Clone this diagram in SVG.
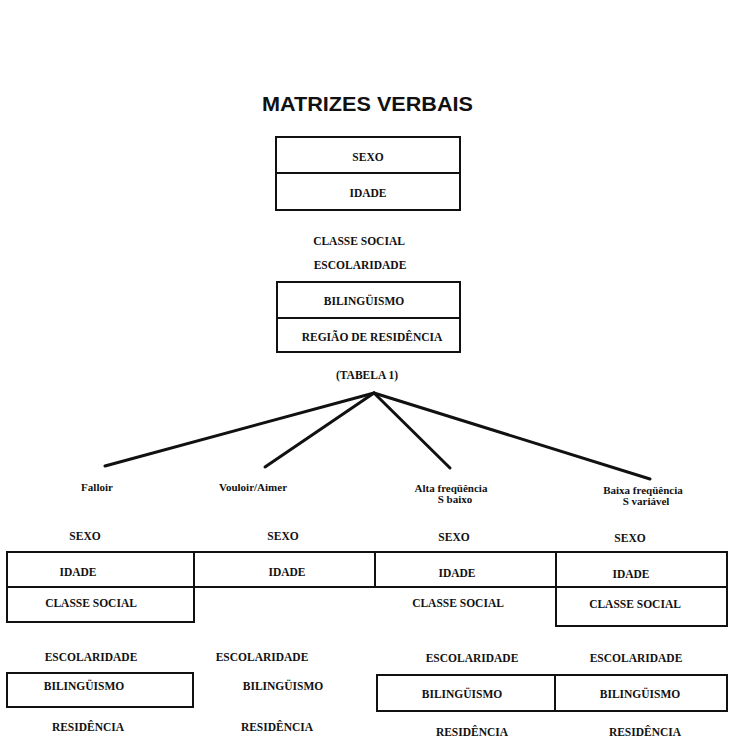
<svg xmlns="http://www.w3.org/2000/svg" width="733" height="738" viewBox="0 0 733 738">
<style>
.t{font-family:"Liberation Serif","Times New Roman",serif;font-weight:bold;font-size:11.5px;fill:#111;text-anchor:middle}
.s{font-size:11px}
.title{font-family:"Liberation Sans",Arial,sans-serif;font-weight:bold;font-size:21px;fill:#111;text-anchor:middle}
.box{fill:none;stroke:#111;stroke-width:2}
.ln{stroke:#111;stroke-width:2}
.con{stroke:#111;stroke-width:3;stroke-linecap:round}
</style>
<rect width="733" height="738" fill="#fff"/>
<g id="title"><text class="title" x="367.5" y="110.5" textLength="211" lengthAdjust="spacingAndGlyphs">MATRIZES VERBAIS</text></g>
<g id="box-top">
<rect class="box" x="276" y="137" width="184" height="73"/>
<line class="ln" x1="276" y1="173" x2="460" y2="173"/>
<text class="t" x="368" y="161">SEXO</text>
<text class="t" x="368" y="197">IDADE</text>
</g>
<g id="classe-social"><text class="t" x="359" y="245">CLASSE SOCIAL</text></g>
<g id="escolaridade"><text class="t" x="360" y="269">ESCOLARIDADE</text></g>
<g id="box-mid">
<rect class="box" x="277" y="282" width="183" height="70"/>
<line class="ln" x1="277" y1="318" x2="460" y2="318"/>
<text class="t" x="364" y="305">BILINGÜISMO</text>
<text class="t" x="372" y="341">REGIÃO DE RESIDÊNCIA</text>
</g>
<g id="tabela"><text class="t" x="367" y="379">(TABELA 1)</text></g>
<g id="connectors">
<line class="con" x1="374" y1="393" x2="105" y2="466"/>
<line class="con" x1="374" y1="393" x2="265" y2="467"/>
<line class="con" x1="374" y1="393" x2="450" y2="468"/>
<line class="con" x1="374" y1="393" x2="650" y2="479"/>
</g>
<g id="falloir"><text class="t s" x="97" y="491">Falloir</text></g>
<g id="vouloir"><text class="t s" x="253" y="491">Vouloir/Aimer</text></g>
<g id="alta">
<text class="t s" x="451" y="492">Alta freqüência</text>
<text class="t s" x="455" y="503">S baixo</text>
</g>
<g id="baixa">
<text class="t s" x="643" y="494">Baixa freqüência</text>
<text class="t s" x="646" y="505">S variável</text>
</g>
<g id="grid">
<rect class="box" x="7" y="552" width="720" height="35"/>
<line class="ln" x1="194" y1="552" x2="194" y2="587"/>
<line class="ln" x1="375" y1="552" x2="375" y2="587"/>
<line class="ln" x1="556" y1="552" x2="556" y2="587"/>
<rect class="box" x="7" y="587" width="187" height="35"/>
<rect class="box" x="556" y="587" width="171" height="39"/>
<rect class="box" x="7" y="673" width="186" height="34"/>
<rect class="box" x="377" y="675" width="350" height="36"/>
<line class="ln" x1="555" y1="675" x2="555" y2="711"/>
</g>
<g id="col-falloir">
<text class="t" x="85" y="540">SEXO</text>
<text class="t" x="78" y="576">IDADE</text>
<text class="t" x="91" y="607">CLASSE SOCIAL</text>
<text class="t" x="91" y="661">ESCOLARIDADE</text>
<text class="t" x="84" y="690">BILINGÜISMO</text>
<text class="t" x="88" y="731">RESIDÊNCIA</text>
</g>
<g id="col-vouloir">
<text class="t" x="283" y="540">SEXO</text>
<text class="t" x="287" y="576">IDADE</text>
<text class="t" x="262" y="661">ESCOLARIDADE</text>
<text class="t" x="283" y="690">BILINGÜISMO</text>
<text class="t" x="277" y="731">RESIDÊNCIA</text>
</g>
<g id="col-alta">
<text class="t" x="454" y="541">SEXO</text>
<text class="t" x="457" y="577">IDADE</text>
<text class="t" x="458" y="607">CLASSE SOCIAL</text>
<text class="t" x="472" y="662">ESCOLARIDADE</text>
<text class="t" x="462" y="698">BILINGÜISMO</text>
<text class="t" x="472" y="736">RESIDÊNCIA</text>
</g>
<g id="col-baixa">
<text class="t" x="630" y="542">SEXO</text>
<text class="t" x="631" y="578">IDADE</text>
<text class="t" x="635" y="608">CLASSE SOCIAL</text>
<text class="t" x="636" y="662">ESCOLARIDADE</text>
<text class="t" x="640" y="698">BILINGÜISMO</text>
<text class="t" x="645" y="736">RESIDÊNCIA</text>
</g>
</svg>
